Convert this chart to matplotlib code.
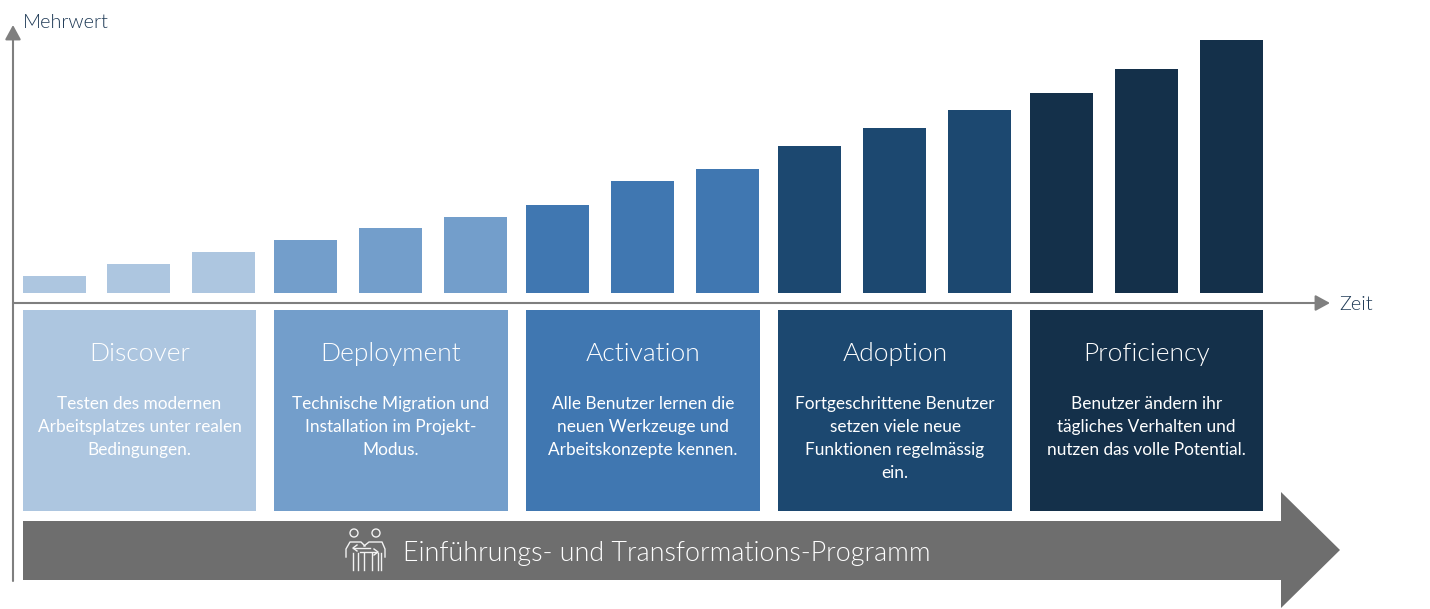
import matplotlib
matplotlib.use("Agg")
import matplotlib.pyplot as plt
from matplotlib import font_manager
from matplotlib.patches import Polygon, Rectangle, Circle, FancyArrowPatch

# bar heights, one group of three per phase
values = [17, 29, 41, 53, 65, 76, 88, 112, 124, 147, 165, 183, 200, 224, 253]
bar_lefts = [23, 107, 192, 274, 359, 444, 526, 611, 696, 778, 863, 948, 1030, 1115, 1200]
bar_phase = [0, 0, 0, 1, 1, 1, 2, 2, 2, 3, 3, 3, 4, 4, 4]

phases = ["Discover", "Deployment", "Activation", "Adoption", "Proficiency"]
phase_text = [
    "Testen des modernen\nArbeitsplatzes unter realen\nBedingungen.",
    "Technische Migration und\nInstallation im Projekt-\nModus.",
    "Alle Benutzer lernen die\nneuen Werkzeuge und\nArbeitskonzepte kennen.",
    "Fortgeschrittene Benutzer\nsetzen viele neue\nFunktionen regelmässig\nein.",
    "Benutzer ändern ihr\ntägliches Verhalten und\nnutzen das volle Potential.",
]
phase_colors = ["#adc6e0", "#739ecb", "#4077b1", "#1c4870", "#14304a"]
card_lefts = [23, 274, 526, 778, 1030]
card_widths = [233, 234, 234, 234, 233]

banner_text = "Einführungs- und Transformations-Programm"
y_label = "Mehrwert"
x_label = "Zeit"

GREY = "#7f7f7f"
BANNER = "#6e6e6e"
LABEL = "#1f3a56"
BASE = 293  # pixel row of the bar baseline


def py(row):
    """picture row -> data y, bars stand on 0"""
    return BASE - row


def light_font():
    # the "light" weight lookup lands on a hairline cut, so pick the file by name
    for f in font_manager.fontManager.ttflist:
        if f.name == "Lato" and f.fname.endswith("Lato-Light.ttf"):
            return font_manager.FontProperties(fname=f.fname)
    return font_manager.FontProperties(family="Lato")


plt.rcParams["font.family"] = ["Lato", "DejaVu Sans"]
LIGHT = light_font()

fig = plt.figure(figsize=(14.3, 6.09), dpi=100)
ax = fig.add_axes([0, 0, 1, 1])
ax.set_xlim(0, 1430)
ax.set_ylim(py(609), py(0))
ax.axis("off")

# bars
ax.bar(bar_lefts, values, width=63.3, align="edge",
       color=[phase_colors[p] for p in bar_phase], linewidth=0)

# axes arrows
ARROW = "-|>,head_length=0.55,head_width=0.3"
ax.add_patch(FancyArrowPatch((13, py(581)), (13, py(25)), arrowstyle=ARROW,
                             mutation_scale=16, color=GREY, lw=1.5, shrinkA=0, shrinkB=0))
ax.add_patch(FancyArrowPatch((13, py(303)), (1330, py(303)), arrowstyle=ARROW,
                             mutation_scale=16, color=GREY, lw=1.5, shrinkA=0, shrinkB=0))
ax.text(23, py(22), y_label, color=LABEL, fontproperties=LIGHT, fontsize=14.3, va="center")
ax.text(1339, py(304), x_label, color=LABEL, fontproperties=LIGHT, fontsize=14.3, va="center")

# phase cards
for left, w, col, title, body in zip(card_lefts, card_widths, phase_colors, phases, phase_text):
    ax.add_patch(Rectangle((left, py(511)), w, 201, color=col, lw=0))
    cx = left + w / 2
    ax.text(cx, py(354), title, color="white", fontproperties=LIGHT, fontsize=19, ha="center", va="center")
    for i, line in enumerate(body.split("\n")):
        ax.text(cx, py(404 + i * 23), line, color="white", fontsize=12.45, ha="center", va="center")

# banner arrow
ax.add_patch(Polygon([(23, py(521)), (1281, py(521)), (1281, py(492)), (1340, py(550)),
                      (1281, py(608)), (1281, py(580)), (23, py(580))],
                     closed=True, color=BANNER, lw=0))
ax.text(403, py(553), banner_text, color="white", fontproperties=LIGHT, fontsize=19.4, va="center")

# little people icon
ICON = "#f2f2f2"
for hx in (354, 376):
    ax.add_patch(Circle((hx, py(533)), 4, fill=False, ec=ICON, lw=1))
icon_lines = [
    [(346, 557), (346, 549), (350, 542), (361, 542), (365, 546)],
    [(364, 546), (369, 542), (382, 542), (385, 549), (385, 557)],
    [(353, 570), (353, 553)], [(358, 570), (358, 553)], [(364, 570), (364, 553)],
    [(372, 570), (372, 553)], [(378, 570), (378, 553)], [(381, 570), (381, 553)],
    [(353, 548), (370, 548)], [(360, 552), (377, 552)],
]
for pts in icon_lines:
    ax.plot([p[0] for p in pts], [py(p[1]) for p in pts], color=ICON, lw=1)
ax.plot([357, 353, 357], [py(545), py(548), py(551)], color=ICON, lw=1)
ax.plot([374, 378, 374], [py(549), py(552), py(555)], color=ICON, lw=1)

fig.savefig("out.png", dpi=100)
